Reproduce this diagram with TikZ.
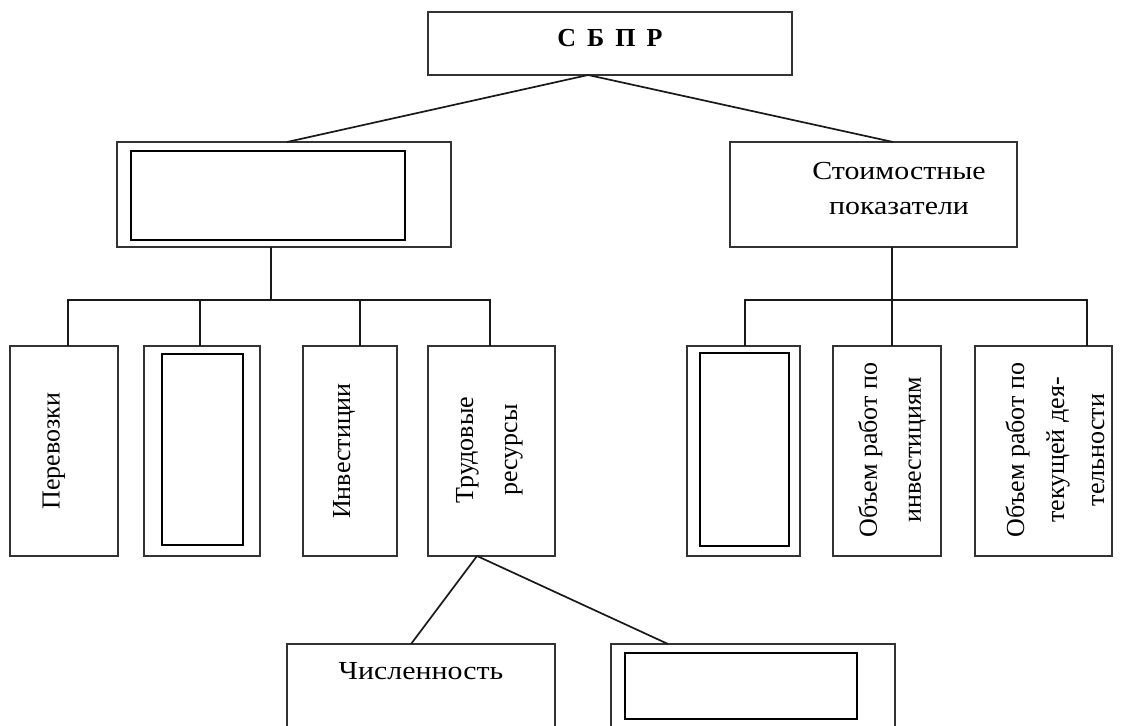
\documentclass[tikz,border=0pt]{standalone}
\usepackage{fontspec}
\setmainfont{Liberation Serif}
\usetikzlibrary{calc}
\tikzset{
  box/.style={draw=black!80, line width=2pt, outer sep=0pt, inner sep=0pt, fill=white},
  innerbox/.style={draw=black, line width=1.4pt, outer sep=0pt, inner sep=0pt},
  conn/.style={draw=black!90, line width=1.7pt},
  txt/.style={font=\fontsize{26}{35}\selectfont, inner sep=0pt, align=center, xscale=1.15},
  vtxt/.style={font=\fontsize{26}{44}\selectfont, inner sep=0pt, align=center, rotate=90},
}
\begin{document}
\begin{tikzpicture}[x=1pt,y=-1pt]
\useasboundingbox (0,0) rectangle (1131,725);
\clip (0,0) rectangle (1131,725);

% top box
\node[box, minimum width=364pt, minimum height=63pt] (top) at (610,43.5) {};
\node[inner sep=0pt, font=\fontsize{26}{30}\selectfont\bfseries] (toptxt) at (610,38) {С\hspace{11pt}Б\hspace{11pt}П\hspace{11pt}Р};

% level 1
\node[box, minimum width=334pt, minimum height=105pt] (L) at (284,194.5) {};
\node[innerbox, minimum width=274pt, minimum height=89pt] (Lin) at (268,195.5) {};
\node[box, minimum width=287pt, minimum height=105pt] (R) at (873.5,194.5) {};
\node[txt] (Rtxt) at (899,188.5) {Стоимостные\\показатели};

% level 2 left
\node[box, minimum width=108pt, minimum height=210pt] (p1) at (64,451) {};
\node[vtxt] (p1txt) at (54,451) {Перевозки};
\node[box, minimum width=116pt, minimum height=210pt] (p2) at (202,451) {};
\node[innerbox, minimum width=81pt, minimum height=191pt] (p2in) at (202.5,449.5) {};
\node[box, minimum width=94pt, minimum height=210pt] (p3) at (350,451) {};
\node[vtxt] (p3txt) at (344,451) {Инвестиции};
\node[box, minimum width=127pt, minimum height=210pt] (p4) at (491.5,451) {};
\node[vtxt] (p4txt) at (489.5,450) {Трудовые\\ресурсы};

% level 2 right
\node[box, minimum width=113pt, minimum height=210pt] (q1) at (743.5,451) {};
\node[innerbox, minimum width=89pt, minimum height=193pt] (q1in) at (744.5,449.5) {};
\node[box, minimum width=108pt, minimum height=210pt] (q2) at (887,451) {};
\node[vtxt] (q2txt) at (892,450) {Объем работ по\\инвестициям};
\node[box, minimum width=137pt, minimum height=210pt] (q3) at (1043.5,451) {};
\node[vtxt, font=\fontsize{26}{40}\selectfont] (q3txt) at (1055,450) {Объем работ по\\текущей дея-\\тельности};

% level 3
\node[box, minimum width=268pt, minimum height=96pt] (b1) at (421,692) {};
\node[txt] (b1txt) at (421,671) {Численность};
\node[box, minimum width=284pt, minimum height=96pt] (b2) at (753,692) {};
\node[innerbox, minimum width=232pt, minimum height=66pt] (b2in) at (741,686) {};

% connectors from top
\coordinate (apex) at ($(top.south west)!0.44!(top.south east)$);
\draw[conn] (apex) -- ($(L.north west)!0.509!(L.north east)$);
\draw[conn] (apex) -- ($(R.north west)!0.568!(R.north east)$);

% left bus
\coordinate (lbus) at (271,300);
\draw[conn] (L.south -| lbus) -- (lbus);
\draw[conn] (p1.north -| 68,0) |- (lbus) -| (p4.north -| 490,0);
\draw[conn] (p2.north -| 200,0) -- ++(0,-46);
\draw[conn] (p3.north -| 360,0) -- ++(0,-46);

% right bus
\coordinate (rbus) at (892,300);
\draw[conn] (R.south -| rbus) -- (q2.north -| rbus);
\draw[conn] (q1.north -| 745,0) |- (rbus) -| (q3.north -| 1087,0);

% bottom connectors
\coordinate (tapex) at ($(p4.south west)!0.386!(p4.south east)$);
\draw[conn] (tapex) -- (b1.north -| 411,0);
\draw[conn] (tapex) -- (b2.north -| 668,0);
\end{tikzpicture}
\end{document}
